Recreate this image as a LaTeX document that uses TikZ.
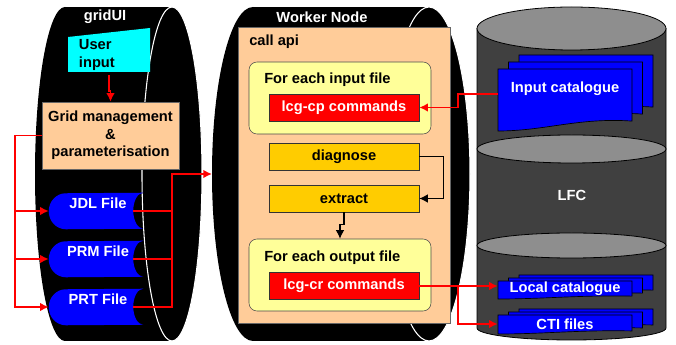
\documentclass[tikz,border=0pt]{standalone}
\usepackage{fontspec}
\setmainfont{Liberation Sans}
\usetikzlibrary{arrows.meta,calc}
\definecolor{peach}{HTML}{FFCC99}
\definecolor{paleyellow}{HTML}{FFFF99}
\definecolor{amber}{HTML}{FFCC00}
\definecolor{aqua}{HTML}{00FFFF}
\definecolor{lfcbody}{HTML}{404040}
\definecolor{lfccap}{HTML}{8E8E8E}
% stored data file: name, centre y, label
\newcommand{\datafile}[3]{%
  \node[filebox] (#1) at (96,#2) {};
  \fill[blue] (#1.north east) arc[start angle=270,end angle=90,x radius=10,y radius=18]
    -- ($(#1.south west)+(17,0)$) arc[start angle=90,end angle=270,x radius=17,y radius=18] -- cycle;
  \node[filetext] (#1-txt) at ($(#1.center)+(2,-8)$) {#3};
  \coordinate (#1-out) at ($(#1.east)+(-10,0)$);
}
% one sheet: x, y, width, height
\newcommand{\sheet}[4]{%
  \filldraw[sheetstyle] ({#1},{#2}) -- ({#1+#3},{#2}) -- ({#1+#3},{#2+0.84*#4})
    .. controls ({#1+0.6*#3},{#2+0.78*#4}) and ({#1+0.35*#3},{#2+1.0*#4}) .. ({#1},{#2+#4}) -- cycle;
}
% stack of sheets: name, x, y, height, dy, text y, text
\newcommand{\docstack}[7]{%
  \sheet{#2+21}{#3-2*#5}{134}{#4}
  \sheet{#2+10.5}{#3-#5}{134}{#4}
  \sheet{#2}{#3}{134}{#4}
  \node[doctext] (#1) at ({#2+67},#6) {#7};
}
\begin{document}
\begin{tikzpicture}[x=0.75pt,y=-0.75pt,>={Latex[length=6.5pt,width=6.5pt]},
  every node/.style={font=\fontsize{11}{13}\selectfont\bfseries},
  whitelabel/.style={text=white},
  peachbox/.style={draw=black!60,fill=peach},
  roundbox/.style={draw=black!70,fill=paleyellow,rounded corners=6pt,minimum width=136.5pt,minimum height=54pt},
  cmdbox/.style={draw=black!80,fill=red,text=white,minimum width=112.5pt,minimum height=20.25pt},
  stepbox/.style={draw=black!80,fill=amber,minimum width=112.5pt,minimum height=20.25pt},
  filebox/.style={minimum width=70.5pt,minimum height=27pt,inner sep=0},
  filetext/.style={text=white,inner sep=0},
  doctext/.style={text=white,minimum width=100.5pt,inner sep=0},
  lefttext/.style={anchor=west,inner sep=0},
  redarrow/.style={->,draw=red,line width=1.3pt},
  redline/.style={draw=red,line width=1.3pt},
  blackarrow/.style={->,draw=black,line width=0.8pt},
  sheetstyle/.style={fill=blue,draw=black,line width=0.5pt}]
\useasboundingbox (0,0) rectangle (676,345);

% cylinders
\fill (65,7) rectangle (172,341);
\fill (65,174) ellipse[x radius=30,y radius=167];
\filldraw[draw=white,thick] (172,174) ellipse[x radius=30,y radius=167];
\fill (253,7) rectangle (429,341);
\fill (253,174) ellipse[x radius=41,y radius=167];
\filldraw[draw=white,thick] (429,174) ellipse[x radius=41,y radius=167];
\filldraw[fill=lfcbody,draw=black,line width=0.6pt] (477,28.5) -- (477,328)
  arc[start angle=180,end angle=0,x radius=94.5,y radius=12] -- (666,28.5) -- cycle;
\filldraw[fill=lfccap,draw=black,line width=0.6pt] (571.5,28.5) ellipse[x radius=94.5,y radius=21.5];
\filldraw[fill=lfccap,draw=black,line width=0.6pt] (571.5,149) ellipse[x radius=94.5,y radius=14];
\filldraw[fill=lfccap,draw=black,line width=0.6pt] (571.5,245.5) ellipse[x radius=94.5,y radius=12.5];

\node[whitelabel] (gridui) at (105,17) {gridUI};
\node[whitelabel] (wn) at (322,17) {Worker Node};
\node[whitelabel] (lfc) at (572,195) {LFC};
\coordinate (worker) at (212,174);

% gridUI
\fill[aqua] (68,37) -- (150,28) -- (150,72) -- (68,72) -- cycle;
\node[minimum width=61.5pt,minimum height=25.5pt,text width=45pt,align=left] (user) at (109,55) {User\\input};
\node[peachbox,minimum width=102.75pt,minimum height=50.25pt,align=center] (gm) at (110.5,135.5)
  {Grid management\\\&\\parameterisation};
\datafile{jdl}{211}{JDL File}
\datafile{prm}{259}{PRM File}
\datafile{prt}{307}{PRT File}

% worker node
\node[peachbox,minimum width=159pt,minimum height=222pt] (api) at (344,175) {};
\node[lefttext] (apitxt) at (249,42) {call api};
\node[roundbox] (inbox) at (340,98) {};
\node[lefttext] (intxt) at (264,80) {For each input file};
\node[cmdbox] (cp) at (344,107.5) {lcg-cp commands};
\node[stepbox] (diag) at (344,156.5) {diagnose};
\node[stepbox] (extr) at (344,198.5) {extract};
\node[roundbox] (outbox) at (340,275) {};
\node[lefttext] (outtxt) at (264,258) {For each output file};
\node[cmdbox] (cr) at (344,286) {lcg-cr commands};

% LFC
\docstack{incat}{498}{69}{62}{7}{89}{Input catalogue}
\docstack{locat}{498}{281}{18}{3}{289}{Local catalogue}
\docstack{cti}{498}{315}{19}{3}{324}{CTI files}

% connectors
\draw[redarrow] (user.south) -- ++(0,16) -| (gm.north);
\draw[redarrow] (gm.west) -- ++(-27,0) |- (jdl.west);
\draw[redarrow] (gm.west) -- ++(-27,0) |- (prm.west);
\draw[redarrow] (gm.west) -- ++(-27,0) |- (prt.west);
\draw[redline] (jdl-out) -- ++(39,0);
\draw[redline] (prm-out) -- ++(39,0);
\draw[redarrow] (prt-out) -- ++(39,0) |- (worker);
\draw[blackarrow] (diag.east) -- ++(24,0) |- (extr.east);
\draw[blackarrow] (extr.south) -- ++(0,12) -| (outbox.north);
\draw[redarrow] ($(incat.west)+(0,5)$) -- ++(-40,0) |- (cp.east);
\draw[redarrow] (cr.east) -- (cr.east -| locat.west);
\draw[redarrow] (cr.east) -- ++(39,0) |- (cti.west);
\end{tikzpicture}
\end{document}
